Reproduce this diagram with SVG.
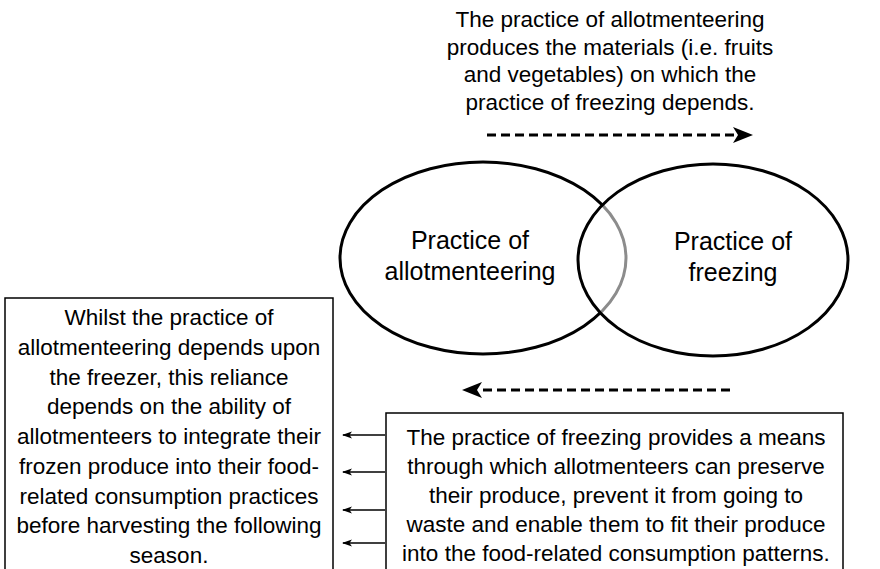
<svg xmlns="http://www.w3.org/2000/svg" width="880" height="569" viewBox="0 0 880 569">
<defs>
<style>
text{font-family:"Liberation Sans",Arial,sans-serif;font-size:22.5px;fill:#000;text-anchor:middle}
.big{font-size:25px}
.ell{fill:none;stroke:#000;stroke-width:3}
.box{fill:#fff;stroke:#000;stroke-width:1.5}
.dash{stroke:#000;stroke-width:3;stroke-dasharray:9 5;fill:none}
.thin{stroke:#000;stroke-width:1.5;fill:none}
</style>
<marker id="small" viewBox="0 0 10 8" refX="9" refY="4" markerWidth="10" markerHeight="8" markerUnits="userSpaceOnUse" orient="auto">
<path d="M0,0.5 L10,4 L0,7.5 L2.5,4 Z" fill="#000"/>
</marker>
</defs>
<rect width="880" height="569" fill="#fff"/>

<g id="top-label">
<text x="610" y="27">The practice of allotmenteering</text>
<text x="610" y="55">produces the materials (i.e. fruits</text>
<text x="610" y="82">and vegetables) on which the</text>
<text x="610" y="110">practice of freezing depends.</text>
</g>

<g id="allotmenteering">
<ellipse class="ell" cx="483" cy="258" rx="143" ry="96"/>
<text class="big" x="470" y="249">Practice of</text>
<text class="big" x="470" y="280">allotmenteering</text>
</g>

<g id="freezing">
<ellipse class="ell" cx="713" cy="260" rx="135" ry="96" style="fill:#fff;fill-opacity:0.55"/>
<text class="big" x="733" y="250">Practice of</text>
<text class="big" x="733" y="281">freezing</text>
</g>

<g id="left-box">
<rect class="box" x="5" y="298" width="328" height="275"/>
<text x="169" y="325">Whilst the practice of</text>
<text x="169" y="355">allotmenteering depends upon</text>
<text x="169" y="385">the freezer, this reliance</text>
<text x="169" y="414">depends on the ability of</text>
<text x="169" y="444">allotmenteers to integrate their</text>
<text x="169" y="474">frozen produce into their food-</text>
<text x="169" y="504">related consumption practices</text>
<text x="169" y="533">before harvesting the following</text>
<text x="169" y="563">season.</text>
</g>

<g id="right-box">
<rect class="box" x="386" y="413" width="457" height="160"/>
<text x="616" y="445">The practice of freezing provides a means</text>
<text x="616" y="474">through which allotmenteers can preserve</text>
<text x="616" y="503">their produce, prevent it from going to</text>
<text x="616" y="532">waste and enable them to fit their produce</text>
<text x="616" y="561">into the food-related consumption patterns.</text>
</g>

<g id="connectors">
<line class="dash" x1="487" y1="135" x2="737" y2="135"/>
<path d="M733,127 L753,135 L733,143 L738,135 Z" fill="#000"/>
<line class="dash" x1="730" y1="390" x2="478" y2="390"/>
<path d="M482,382 L462,390 L482,398 L477,390 Z" fill="#000"/>
<line class="thin" x1="385" y1="435" x2="343" y2="435" marker-end="url(#small)"/>
<line class="thin" x1="385" y1="472" x2="343" y2="472" marker-end="url(#small)"/>
<line class="thin" x1="385" y1="510" x2="343" y2="510" marker-end="url(#small)"/>
<line class="thin" x1="385" y1="543" x2="343" y2="543" marker-end="url(#small)"/>
</g>
</svg>
